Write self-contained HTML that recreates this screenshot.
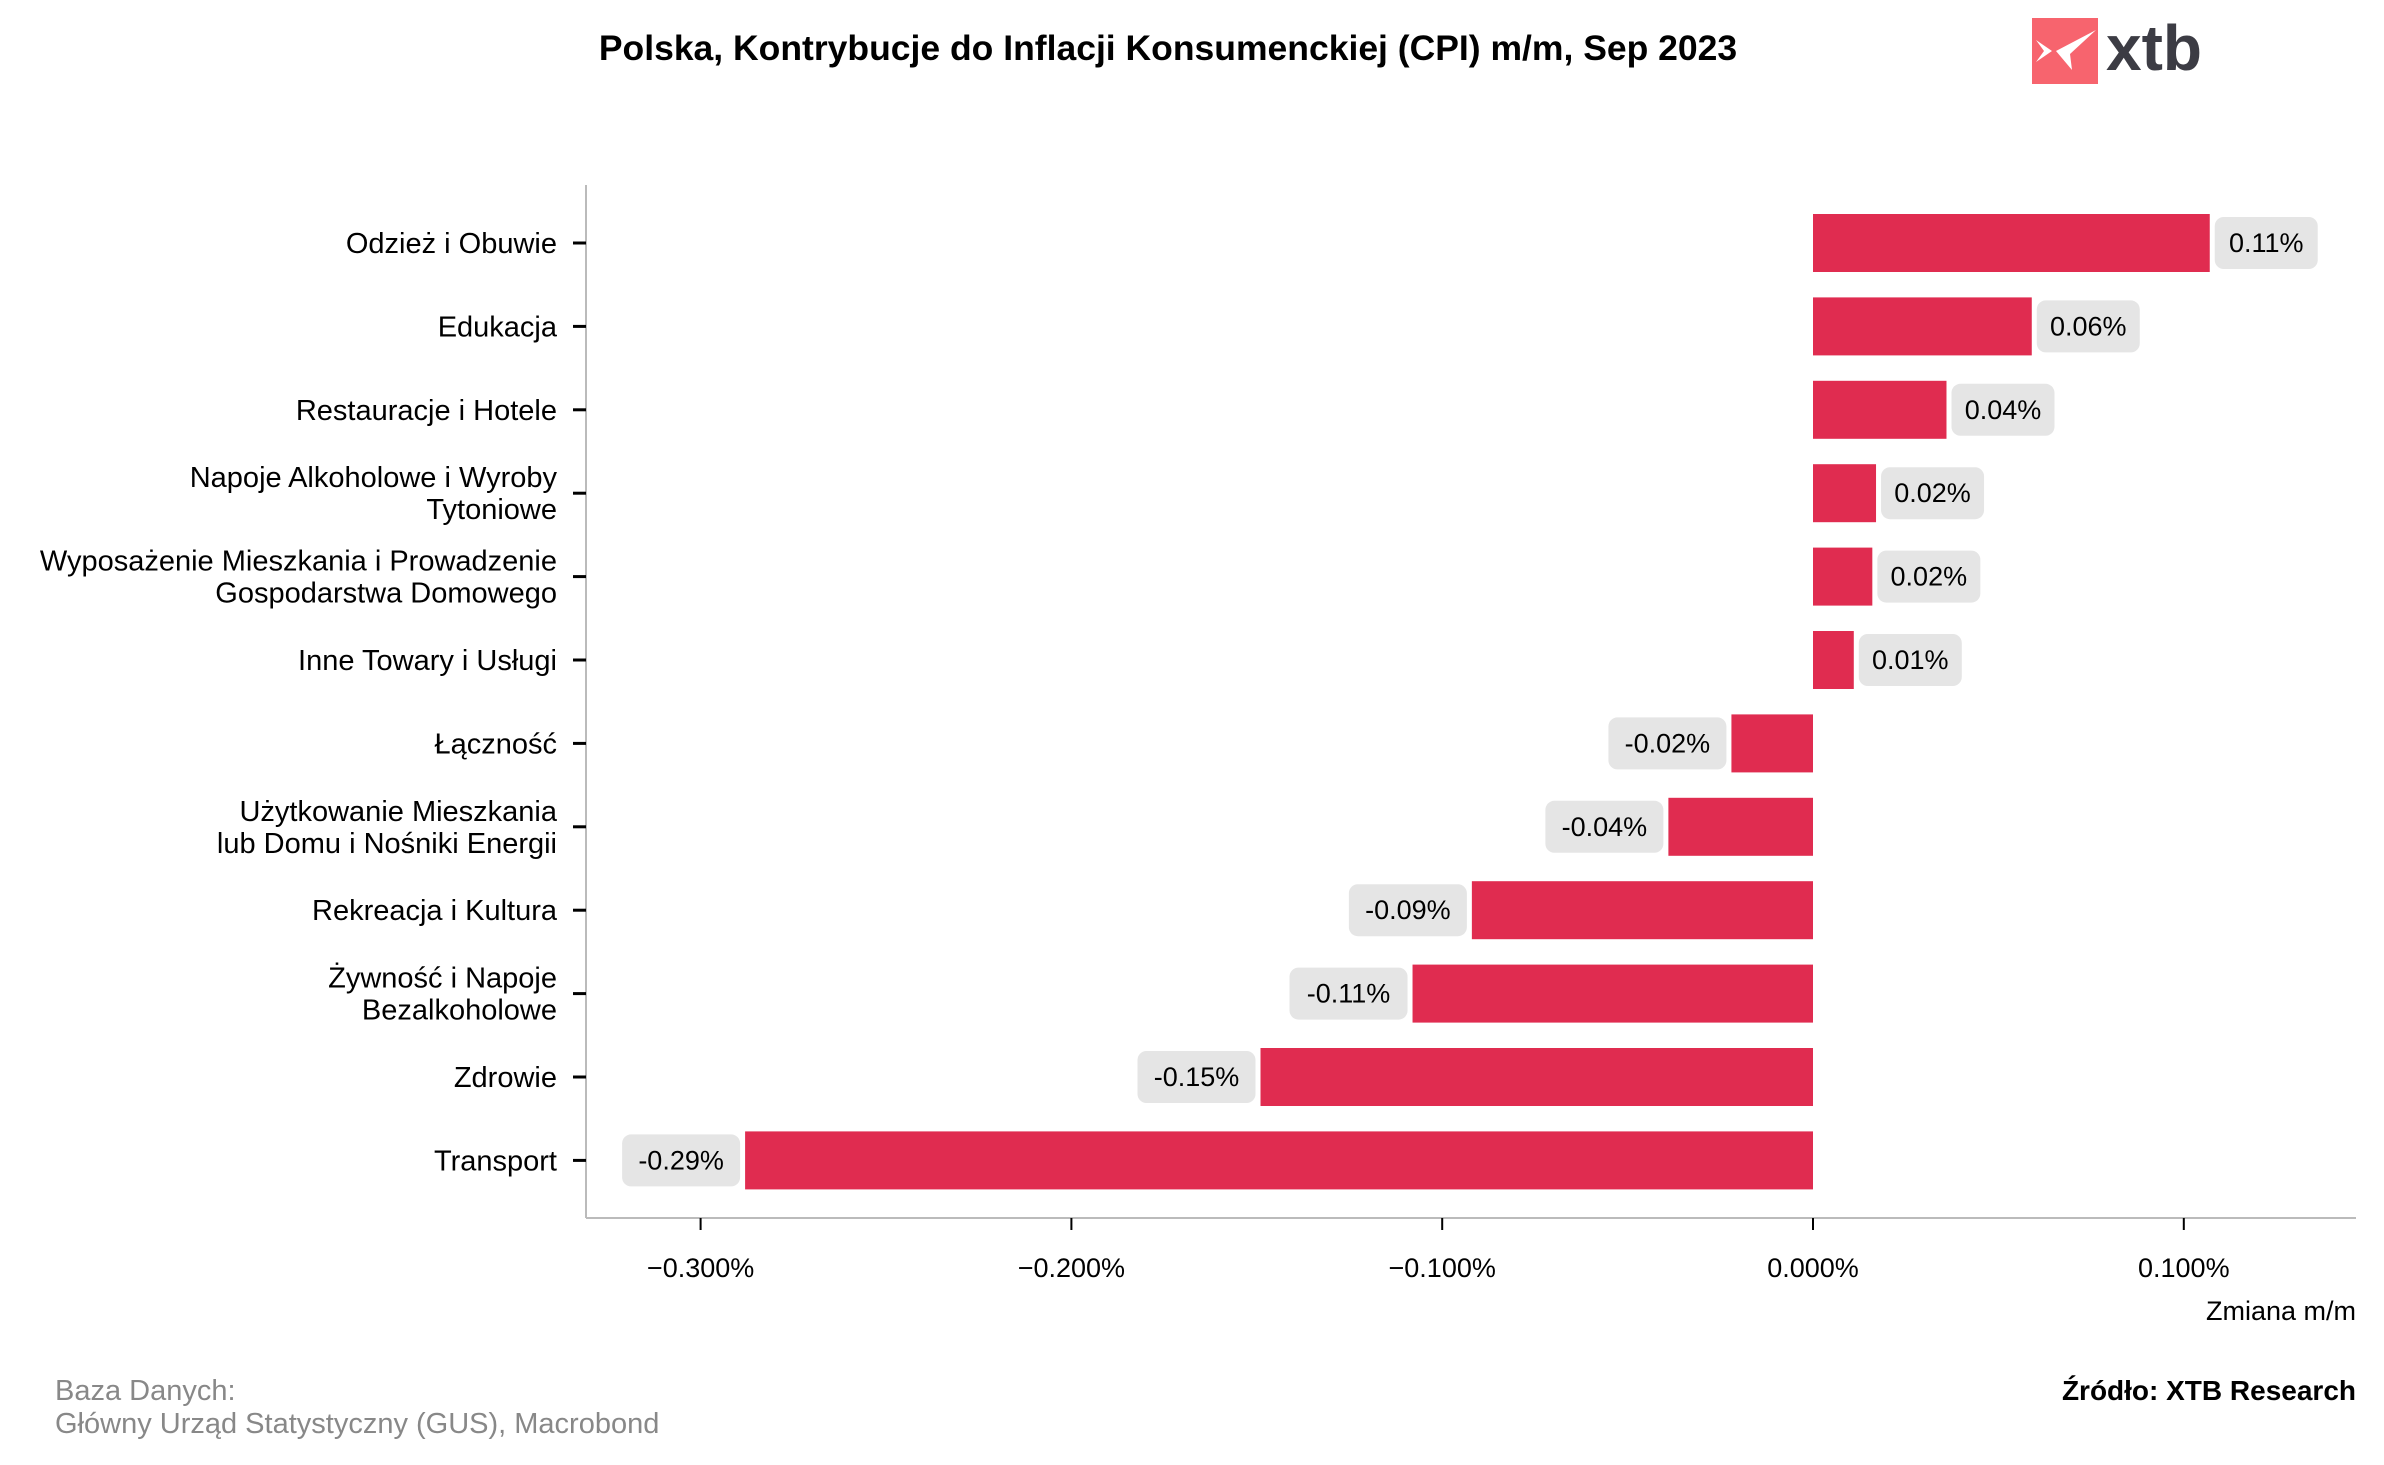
<!DOCTYPE html>
<html><head><meta charset="utf-8"><style>
html,body{margin:0;padding:0;background:#fff;}
svg{display:block;font-family:"Liberation Sans",sans-serif;}
</style></head><body>
<svg id="chart" width="2384" height="1465" viewBox="0 0 2384 1465">
<text x="1168" y="60" text-anchor="middle" font-size="35.5" font-weight="bold" fill="#000">Polska, Kontrybucje do Inflacji Konsumenckiej (CPI) m/m, Sep 2023</text>
<g>
<rect x="2032" y="18" width="66" height="66" fill="#f7646e"/>
<path d="M2036 40 L2052 51 L2036 62 L2044 51 Z M2096 30 L2056 51 L2072 70 L2070 54 Z" fill="#fff"/>
<text x="2106" y="70" font-size="64" font-weight="bold" fill="#3c3c44">xtb</text>
</g>
<g id="plot"></g>
<text x="2356" y="1320" text-anchor="end" font-size="27" fill="#000">Zmiana m/m</text>
<text x="55" y="1400" font-size="29" fill="#888">Baza Danych:</text>
<text x="55" y="1433" font-size="29" fill="#888">Główny Urząd Statystyczny (GUS), Macrobond</text>
<text x="2356" y="1400" text-anchor="end" font-size="28" font-weight="bold" fill="#000">Źródło: XTB Research</text>
</svg>
<script>
const categories = [["Odzież i Obuwie"],["Edukacja"],["Restauracje i Hotele"],["Napoje Alkoholowe i Wyroby","Tytoniowe"],["Wyposażenie Mieszkania i Prowadzenie","Gospodarstwa Domowego"],["Inne Towary i Usługi"],["Łączność"],["Użytkowanie Mieszkania","lub Domu i Nośniki Energii"],["Rekreacja i Kultura"],["Żywność i Napoje","Bezalkoholowe"],["Zdrowie"],["Transport"]];
const values = [0.107,0.059,0.036,0.017,0.016,0.011,-0.022,-0.039,-0.092,-0.108,-0.149,-0.288];
const valueLabels = ["0.11%","0.06%","0.04%","0.02%","0.02%","0.01%","-0.02%","-0.04%","-0.09%","-0.11%","-0.15%","-0.29%"];
const xTicks = [-0.3,-0.2,-0.1,0,0.1];
const xTickLabels = ["\u22120.300%","\u22120.200%","\u22120.100%","0.000%","0.100%"];

const NS="http://www.w3.org/2000/svg";
const plot=document.getElementById('plot');
const X0=586,X1=2356,Y0=185,Y1=1218;
const xScale=v=>1813+v*3708;
const pitch=83.4, firstC=243;
const yScale=i=>firstC+i*pitch;
const barH=58;
function mk(tag,attrs){const e=document.createElementNS(NS,tag);for(const k in attrs)e.setAttribute(k,attrs[k]);return e;}

const yAxis=mk('line',{x1:X0,y1:Y0,x2:X0,y2:Y1,stroke:'#bbb','stroke-width':2});


plot.appendChild(yAxis);
const xAxis=mk('line',{x1:X0,y1:Y1,x2:X1,y2:Y1,stroke:'#bbb','stroke-width':2});


plot.appendChild(xAxis);

xTicks.forEach((t,i)=>{
  const x=xScale(t);
  const tk=mk('line',{x1:x,y1:Y1,x2:x,y2:Y1+12,stroke:'#000','stroke-width':2});
  
  
  plot.appendChild(tk);
  const tl=mk('text',{x:x,y:1277,'text-anchor':'middle','font-size':27,fill:'#000'});
  tl.textContent=xTickLabels[i];
  
  
  plot.appendChild(tl);
});

categories.forEach((lines,i)=>{
  const cy=yScale(i);
  const tk=mk('line',{x1:573,y1:cy,x2:586,y2:cy,stroke:'#000','stroke-width':3});
  
  
  plot.appendChild(tk);
  const lh=32;
  const startY=cy-(lines.length-1)*lh/2+10;
  lines.forEach((ln,j)=>{
    const t=mk('text',{x:557,y:startY+j*lh,'text-anchor':'end','font-size':29,fill:'#000'});
    t.textContent=ln;
    
    
    plot.appendChild(t);
  });
  const v=values[i];
  const xa=xScale(Math.min(0,v)), xb=xScale(Math.max(0,v));
  const bar=mk('rect',{x:xa,y:cy-barH/2,width:xb-xa,height:barH,fill:'#e02c50'});
  
  
  plot.appendChild(bar);
  const txt=mk('text',{y:cy+9,'font-size':27,fill:'#000','text-anchor':'middle'});
  txt.textContent=valueLabels[i];
  const w=valueLabels[i].length*15+28;
  const bx=v>=0? xb+5 : xa-5-w;
  const box=mk('rect',{x:bx,y:cy-26,width:w,height:52,rx:9,fill:'#e5e5e5'});
  
  
  plot.appendChild(box);
  txt.setAttribute('x',bx+w/2);
  
  
  plot.appendChild(txt);
});
</script>
</body></html>
